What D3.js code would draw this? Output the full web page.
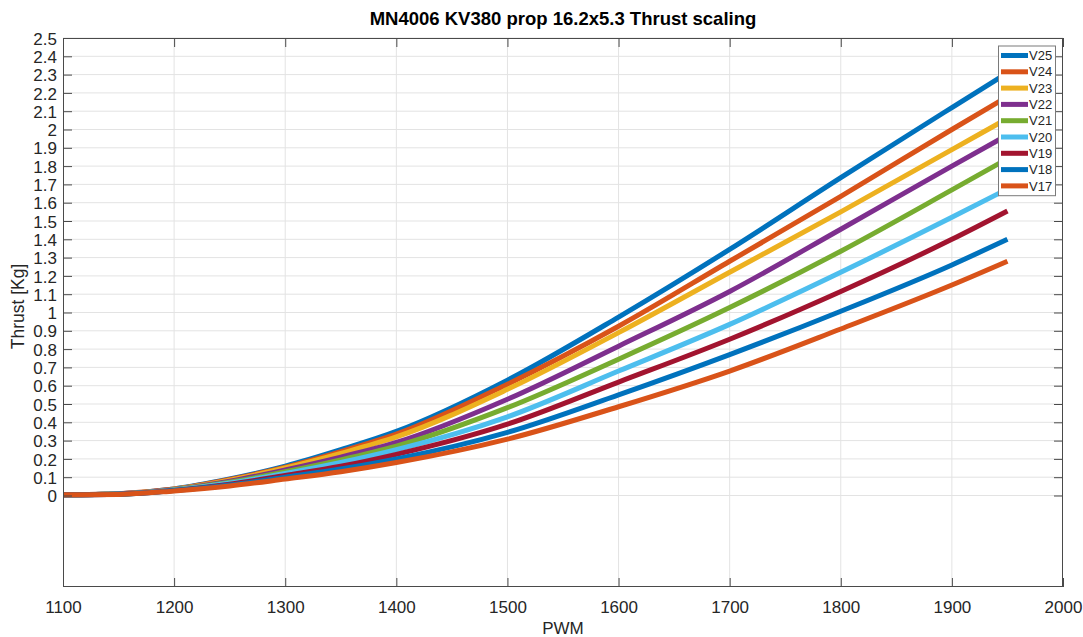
<!DOCTYPE html>
<html>
<head>
<meta charset="utf-8">
<script src="https://cdn.jsdelivr.net/npm/d3@7"></script>
<style>
  html, body { margin: 0; padding: 0; background: #fff; }
  svg { display: block; font-family: "Liberation Sans", Arial, Helvetica, sans-serif; }
</style>
</head>
<body>
<svg id="chart" width="1083" height="637"></svg>
<script>
// PWM sample points (x) shared by every voltage curve
const pwm = [1100, 1150, 1200, 1250, 1300, 1350, 1400, 1500, 1600, 1700, 1800, 1900, 1950];

// Thrust in kg for each supply voltage, V25 down to V17
const seriesNames = ["V25", "V24", "V23", "V22", "V21", "V20", "V19", "V18", "V17"];
const thrustV25 = [0.004, 0.010, 0.036, 0.090, 0.160, 0.250, 0.350, 0.630, 0.975, 1.345, 1.737, 2.12, 2.31];
const thrustV24 = [0.004, 0.010, 0.035, 0.088, 0.155, 0.240, 0.335, 0.608, 0.925, 1.280, 1.635, 2.00, 2.18];
const thrustV23 = [0.004, 0.009, 0.034, 0.084, 0.150, 0.230, 0.320, 0.580, 0.890, 1.220, 1.550, 1.89, 2.06];
const thrustV22 = [0.004, 0.009, 0.033, 0.078, 0.140, 0.210, 0.290, 0.526, 0.816, 1.115, 1.455, 1.80, 1.97];
const thrustV21 = [0.004, 0.008, 0.032, 0.073, 0.130, 0.195, 0.270, 0.480, 0.745, 1.027, 1.335, 1.67, 1.84];
const thrustV20 = [0.004, 0.008, 0.030, 0.068, 0.120, 0.180, 0.250, 0.430, 0.680, 0.935, 1.220, 1.52, 1.675];
const thrustV19 = [0.004, 0.007, 0.028, 0.062, 0.110, 0.160, 0.225, 0.390, 0.620, 0.854, 1.115, 1.40, 1.555];
const thrustV18 = [0.004, 0.007, 0.027, 0.057, 0.100, 0.145, 0.200, 0.345, 0.550, 0.770, 1.007, 1.26, 1.40];
const thrustV17 = [0.004, 0.006, 0.025, 0.052, 0.090, 0.130, 0.180, 0.308, 0.485, 0.680, 0.910, 1.15, 1.28];
const seriesValues = [thrustV25, thrustV24, thrustV23, thrustV22, thrustV21, thrustV20, thrustV19, thrustV18, thrustV17];

// Axis ticks
const xTicks = [1100, 1200, 1300, 1400, 1500, 1600, 1700, 1800, 1900, 2000];
const yTicks = d3.range(0, 26).map(i => +(i / 10).toFixed(1));

const colors = ["#0072BD", "#D95319", "#EDB120", "#7E2F8E", "#77AC30", "#4DBEEE", "#A2142F", "#0072BD", "#D95319"];

const svg = d3.select("#chart");
const margin = { left: 63, right: 20, top: 38, bottom: 50 };
const W = 1083, H = 637;
const x0 = margin.left, x1 = W - margin.right, y0 = margin.top, y1 = H - margin.bottom;

const x = d3.scaleLinear().domain([1100, 2000]).range([x0, x1]);
const y = d3.scaleLinear().domain([-0.5, 2.5]).range([y1, y0]);

const axisColor = "#4a4a4a";
const textColor = "#262626";
const gridColor = "#e3e3e3";

// Grid lines
const grid = svg.append("g");
grid.selectAll("line.gx").data(xTicks.slice(1, -1)).join("line")
  .attr("x1", d => x(d)).attr("x2", d => x(d))
  .attr("y1", y0).attr("y2", y1)
  .attr("stroke", gridColor).attr("stroke-width", 1);
grid.selectAll("line.gy").data(yTicks).join("line")
  .attr("x1", x0).attr("x2", x1)
  .attr("y1", d => y(d)).attr("y2", d => y(d))
  .attr("stroke", gridColor).attr("stroke-width", 1);

// Curves
svg.append("clipPath").attr("id", "plotClip")
  .append("rect").attr("x", x0).attr("y", y0).attr("width", x1 - x0).attr("height", y1 - y0);

const line = d3.line()
  .x((d, i) => x(pwm[i]))
  .y(d => y(d))
  .curve(d3.curveMonotoneX);

svg.append("g").attr("clip-path", "url(#plotClip)")
  .selectAll("path").data(seriesValues).join("path")
  .attr("d", d => line(d))
  .attr("fill", "none")
  .attr("stroke", (d, i) => colors[i])
  .attr("stroke-width", 5)
  .attr("stroke-linejoin", "round");

// Axes: bottom/left with labels, top/right ticks only (box)
const tickLen = 9;
const bottomAxis = d3.axisBottom(x).tickValues(xTicks).tickSize(-tickLen).tickPadding(14).tickFormat(d3.format("d"));
const leftAxis = d3.axisLeft(y).tickValues(yTicks).tickSize(-tickLen).tickPadding(6).tickFormat(d => d3.format("~g")(d));
const topAxis = d3.axisTop(x).tickValues(xTicks).tickSize(-tickLen).tickFormat("");
const rightAxis = d3.axisRight(y).tickValues(yTicks).tickSize(-tickLen).tickFormat("");

function styleAxis(g) {
  g.select(".domain").remove();
  g.selectAll(".tick line").attr("stroke", axisColor).attr("stroke-width", 1);
  g.selectAll(".tick text").attr("fill", textColor).attr("font-size", 17)
    .attr("font-family", "'Liberation Sans', Arial, sans-serif");
}

svg.append("g").attr("transform", `translate(0,${y1})`).call(bottomAxis).call(styleAxis);
svg.append("g").attr("transform", `translate(${x0},0)`).call(leftAxis).call(styleAxis)
  .selectAll(".tick text").attr("dy", "0.36em");
svg.append("g").attr("transform", `translate(0,${y0})`).call(topAxis).call(styleAxis);
svg.append("g").attr("transform", `translate(${x1},0)`).call(rightAxis).call(styleAxis);

// Axes box
svg.append("rect")
  .attr("x", x0 + 0.5).attr("y", y0 + 0.5)
  .attr("width", x1 - x0 - 1).attr("height", y1 - y0 - 1)
  .attr("fill", "none").attr("stroke", axisColor).attr("stroke-width", 1);

// Title and axis labels
svg.append("text")
  .attr("x", (x0 + x1) / 2).attr("y", 25)
  .attr("text-anchor", "middle")
  .attr("font-size", 18.5).attr("font-weight", "bold").attr("fill", "#000")
  .text("MN4006 KV380 prop 16.2x5.3 Thrust scaling");

svg.append("text")
  .attr("x", (x0 + x1) / 2).attr("y", 634)
  .attr("text-anchor", "middle")
  .attr("font-size", 17).attr("fill", textColor)
  .text("PWM");

svg.append("text")
  .attr("transform", `translate(24,${(y0 + y1) / 2 - 6}) rotate(-90)`)
  .attr("text-anchor", "middle")
  .attr("font-size", 17.5).attr("fill", textColor)
  .text("Thrust [Kg]");

// Legend
const lgX = 998, lgY = 45.5, lgW = 57, rowH = 16.3;
const lgH = rowH * seriesNames.length + 3;
const legend = svg.append("g");
legend.append("rect")
  .attr("x", lgX + 0.5).attr("y", lgY + 0.5)
  .attr("width", lgW).attr("height", lgH)
  .attr("fill", "#fff").attr("stroke", "#7a7a7a").attr("stroke-width", 1);
const rows = legend.selectAll("g.row").data(seriesNames).join("g")
  .attr("transform", (d, i) => `translate(0,${lgY + 10 + i * rowH})`);
rows.append("line")
  .attr("x1", lgX + 3).attr("x2", lgX + 30)
  .attr("stroke", (d, i) => colors[i]).attr("stroke-width", 5);
rows.append("text")
  .attr("x", lgX + 31).attr("dy", "0.36em")
  .attr("font-size", 13).attr("fill", textColor)
  .text(d => d);
</script>
</body>
</html>
